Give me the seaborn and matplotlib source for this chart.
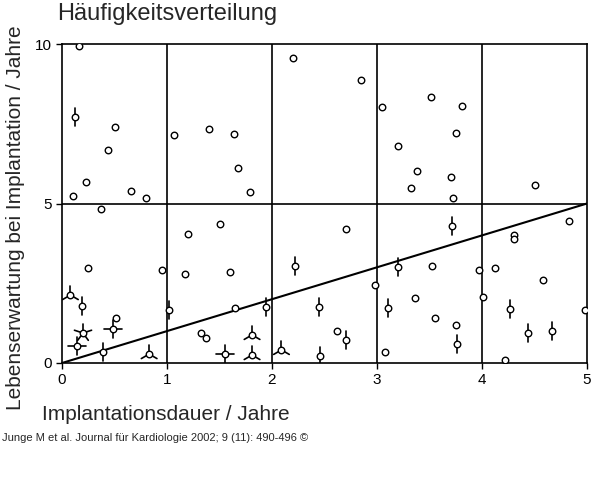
import numpy as np
import pandas as pd
import matplotlib
matplotlib.use("Agg")
import matplotlib.pyplot as plt
import seaborn as sns

dauer = [0.16,0.12,0.10,0.23,0.44,0.50,0.66,0.80,1.07,1.40,1.64,1.68,1.79,2.20,2.85,3.05,3.20,3.32,3.38,3.51,3.81,3.75,3.70,3.72,4.50,0.37,
         0.08,0.19,0.25,0.51,0.49,0.20,0.14,0.39,0.83,0.95,1.02,1.17,1.20,1.50,1.60,1.65,1.94,1.32,1.37,1.81,1.55,1.81,2.09,2.22,2.45,2.46,
         2.70,3.71,4.30,4.30,4.83,3.20,3.52,3.97,4.12,2.98,4.58,3.36,4.01,3.10,4.27,4.98,3.55,2.62,2.70,3.75,3.76,4.44,4.67,3.08,4.22]
erwartung = [9.94,7.71,5.24,5.67,6.68,7.40,5.39,5.17,7.15,7.34,7.18,6.11,5.36,9.56,8.87,8.03,6.80,5.49,6.02,8.34,8.06,7.21,5.83,5.17,5.58,4.83,
             2.13,1.79,2.98,1.41,1.07,0.94,0.53,0.34,0.28,2.92,1.66,2.79,4.04,4.36,2.85,1.72,1.76,0.94,0.78,0.88,0.28,0.25,0.41,3.04,1.76,0.22,
             4.20,4.29,4.01,3.89,4.45,3.01,3.04,2.92,2.98,2.45,2.60,2.04,2.07,1.72,1.69,1.66,1.41,1.00,0.72,1.19,0.60,0.94,1.00,0.34,0.09]
anzahl = [1,2,1,1,1,1,1,1,1,1,1,1,1,1,1,1,1,1,1,1,1,1,1,1,1,1,
          3,2,1,1,4,5,4,2,3,1,2,1,1,1,1,1,2,1,1,3,4,3,3,2,2,2,
          1,2,1,1,1,2,1,1,1,1,1,1,1,2,2,1,1,1,2,1,2,2,2,1,1]
x_ticks = [0,1,2,3,4,5]
y_ticks = [0,5,10]

df = pd.DataFrame({"x": dauer, "y": erwartung, "n": anzahl})

sns.set_style("white")
plt.rcParams['font.family'] = ['Liberation Sans', 'DejaVu Sans']
fig = plt.figure(figsize=(6, 4.91), dpi=100)
ax = fig.add_axes([62/600, 1-363/491, 525/600, 319/491])

L = 9
sx, sy = 5/525, 10/319
for xi, yi, ni in zip(df.x, df.y, df.n):
    if ni < 2:
        continue
    if ni == 2:
        angs = [90, 270]
    elif ni == 3:
        angs = [90, 210, 330]
    elif ni == 4:
        angs = [0, 90, 180, 270]
    else:
        angs = [90 + 360/ni*k for k in range(ni)]
    for a in angs:
        r = np.deg2rad(a)
        ax.plot([xi, xi + L*sx*np.cos(r)], [yi, yi + L*sy*np.sin(r)], color='black', lw=1.2, zorder=3)

sns.scatterplot(data=df, x="x", y="y", ax=ax, marker='o', s=22, facecolor='white',
                edgecolor='black', linewidth=1.0, zorder=4, legend=False)

for v in [1,2,3,4]:
    ax.axvline(v, color='black', lw=1.2, zorder=1)
ax.axhline(5, color='black', lw=1.2, zorder=1)
ax.plot([0,5],[0,5], color='black', lw=1.5, zorder=2)

ax.set_xlim(0,5); ax.set_ylim(0,10)
ax.set_xticks(x_ticks); ax.set_yticks(y_ticks)
ax.tick_params(direction='out', length=4, width=1, labelsize=11, colors='black', bottom=True, left=True)
for s in ax.spines.values():
    s.set_color('black'); s.set_linewidth(1.2)
ax.set_xlabel(""); ax.set_ylabel("")
fig.text(166/600, 1-414/491, "Implantationsdauer / Jahre", fontsize=15, va='center', ha='center')
fig.text(16/600, 1-218/491, "Lebenserwartung bei Implantation / Jahre", fontsize=15, va='center', ha='center', rotation=90)
fig.text(57/600, 1-14/491, "Häufigkeitsverteilung", fontsize=17, va='center', ha='left')
fig.text(2/600, 1-438/491, "Junge M et al. Journal für Kardiologie 2002; 9 (11): 490-496 ©", fontsize=8, va='center', ha='left')

fig.savefig("out.png", dpi=100)
